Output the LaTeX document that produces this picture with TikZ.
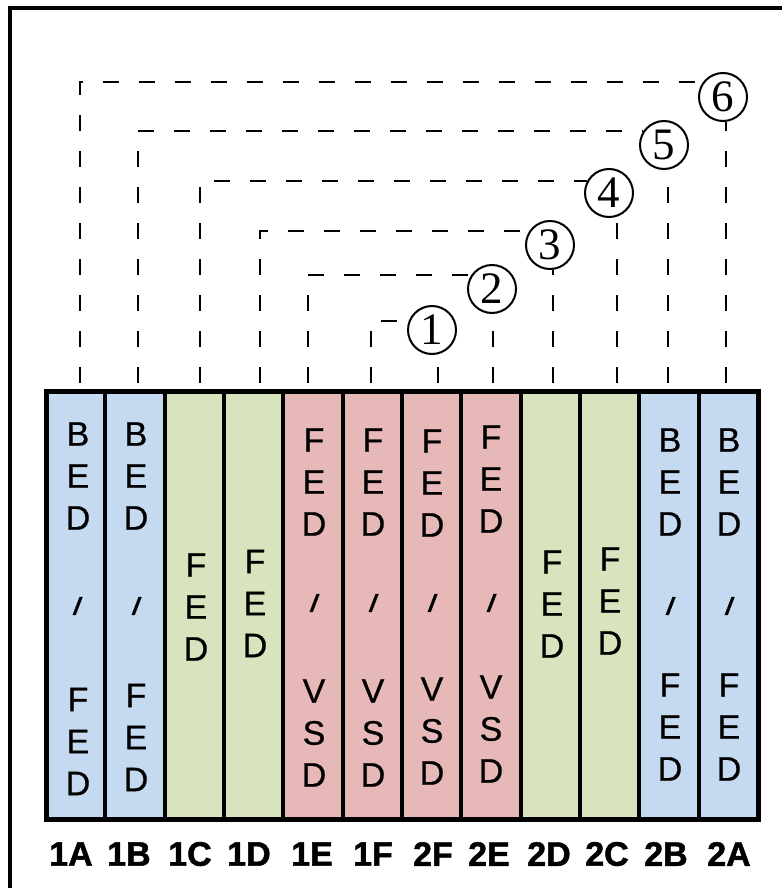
\documentclass[tikz,border=0pt]{standalone}
\usepackage{fontspec}
\setmainfont{Liberation Sans}
\newfontfamily\numfont{Liberation Serif}
\newfontfamily\colfont[FakeBold=0.6]{Liberation Sans}
\newfontfamily\labfont[FakeBold=1.4]{Liberation Sans Bold}
\newfontfamily\slfont[FakeBold=1.5]{Liberation Sans Bold Italic}
\definecolor{bedblue}{RGB}{197,217,241}
\definecolor{fedgreen}{RGB}{215,228,189}
\definecolor{vsdred}{RGB}{230,185,184}
\tikzset{
  panelcol/.style={draw=black, line width=4pt, minimum width=59.33pt, minimum height=428pt, inner sep=0pt, outer sep=0pt},
  letters/.style={align=center, font=\colfont\fontsize{34}{42}\selectfont, inner sep=0pt},
  slashmark/.style={font=\slfont\fontsize{24}{24}\selectfont, inner sep=0pt},
  numcirc/.style={circle, draw=black, line width=2pt, minimum size=48pt, inner sep=0pt, font=\numfont\fontsize{45}{45}\selectfont},
  link/.style={line width=2pt, dash pattern=on 16pt off 20pt},
  collabel/.style={font=\labfont\fontsize{34}{34}\selectfont, inner sep=0pt},
}
\begin{document}
\begin{tikzpicture}[x=1pt,y=-1pt]
\useasboundingbox (0,0) rectangle (782,888);
% outer frame
\coordinate (fbl) at (10,888);
\coordinate (ftl) at (10,8.5);
\coordinate (ftr) at (782,8.5);
\draw[line width=4pt] (fbl) -- (ftl) -- (ftr);

% columns
\node[panelcol, fill=bedblue]  (p1A) at (75.67,605) {};
\node[panelcol, fill=bedblue]  (p1B) at (135.0,605) {};
\node[panelcol, fill=fedgreen] (p1C) at (194.33,605) {};
\node[panelcol, fill=fedgreen] (p1D) at (253.67,605) {};
\node[panelcol, fill=vsdred]   (p1E) at (313.0,605) {};
\node[panelcol, fill=vsdred]   (p1F) at (372.33,605) {};
\node[panelcol, fill=vsdred]   (p2F) at (431.67,605) {};
\node[panelcol, fill=vsdred]   (p2E) at (491.0,605) {};
\node[panelcol, fill=fedgreen] (p2D) at (550.33,605) {};
\node[panelcol, fill=fedgreen] (p2C) at (609.67,605) {};
\node[panelcol, fill=bedblue]  (p2B) at (669.0,605) {};
\node[panelcol, fill=bedblue]  (p2A) at (728.33,605) {};
\draw[line width=5pt] (p1A.north west) rectangle (p2A.south east);

% column texts
\node[letters] (u1A) at (78,476) {B\\E\\D};
\node[slashmark] (s1A) at (77,606) {/};
\node[letters] (l1A) at (78,741.5) {F\\E\\D};
\node[letters] (u1B) at (136,476) {B\\E\\D};
\node[slashmark] (s1B) at (136,606) {/};
\node[letters] (l1B) at (136,737.5) {F\\E\\D};
\node[letters] (m1C) at (196,607) {F\\E\\D};
\node[letters] (m1D) at (255,603.5) {F\\E\\D};
\node[letters] (u1E) at (314,482) {F\\E\\D};
\node[slashmark] (s1E) at (314,603) {/};
\node[letters] (l1E) at (314,733) {V\\S\\D};
\node[letters] (u1F) at (373,482) {F\\E\\D};
\node[slashmark] (s1F) at (373,603) {/};
\node[letters] (l1F) at (373,733) {V\\S\\D};
\node[letters] (u2F) at (432,483) {F\\E\\D};
\node[slashmark] (s2F) at (432,603) {/};
\node[letters] (l2F) at (432,731) {V\\S\\D};
\node[letters] (u2E) at (491,479) {F\\E\\D};
\node[slashmark] (s2E) at (491,603) {/};
\node[letters] (l2E) at (491,729) {V\\S\\D};
\node[letters] (m2D) at (552,604) {F\\E\\D};
\node[letters] (m2C) at (610,601) {F\\E\\D};
\node[letters] (u2B) at (670,482) {B\\E\\D};
\node[slashmark] (s2B) at (670,606) {/};
\node[letters] (l2B) at (670,727) {F\\E\\D};
\node[letters] (u2A) at (729,482) {B\\E\\D};
\node[slashmark] (s2A) at (729,606) {/};
\node[letters] (l2A) at (729,727) {F\\E\\D};

% bottom labels
\node[collabel] (b1A) at (71,854) {1A};
\node[collabel] (b1B) at (129,854) {1B};
\node[collabel] (b1C) at (190,854) {1C};
\node[collabel] (b1D) at (249,854) {1D};
\node[collabel] (b1E) at (312,854) {1E};
\node[collabel] (b1F) at (373,854) {1F};
\node[collabel] (b2F) at (433,854) {2F};
\node[collabel] (b2E) at (489,854) {2E};
\node[collabel] (b2D) at (549,854) {2D};
\node[collabel] (b2C) at (607,854) {2C};
\node[collabel] (b2B) at (666,854) {2B};
\node[collabel] (b2A) at (729,854) {2A};

% numbered circles
\node[numcirc] (c1) at (432,330) {1};
\node[numcirc] (c2) at (492,289) {2};
\node[numcirc] (c3) at (550,245) {3};
\node[numcirc] (c4) at (609,193) {4};
\node[numcirc] (c5) at (664,145) {5};
\node[numcirc] (c6) at (723,97) {6};

% panel top connection points
\coordinate (t1A) at (80,383);
\coordinate (t1B) at (137.5,383);
\coordinate (t1C) at (200,383);
\coordinate (t1D) at (260,383);
\coordinate (t1E) at (308,383);
\coordinate (t1F) at (371,383);
\coordinate (t2F) at (437.5,383);
\coordinate (t2E) at (492.5,383);
\coordinate (t2D) at (553,383);
\coordinate (t2C) at (617,383);
\coordinate (t2B) at (668,383);
\coordinate (t2A) at (725.5,383);

% dashed links
\draw[link] (t1F) |- (c1.158);
\draw[link] (t1E) |- (c2.147);
\draw[link] (t1D) |- (c3.147);
\draw[link] (t1C) |- (c4.150);
\draw[link] (t1B) |- (c5.146);
\draw[link] (t1A) |- (c6.144);
\draw[link] (t2F) -- (t2F |- c1.south);
\draw[link] (t2E) -- (t2E |- c2.south);
\draw[link] (t2D) -- (t2D |- c3.south);
\draw[link] (t2C) -- (t2C |- c4.south);
\draw[link] (t2B) -- (t2B |- c5.south);
\draw[link] (t2A) -- (t2A |- c6.south);
\end{tikzpicture}
\end{document}
